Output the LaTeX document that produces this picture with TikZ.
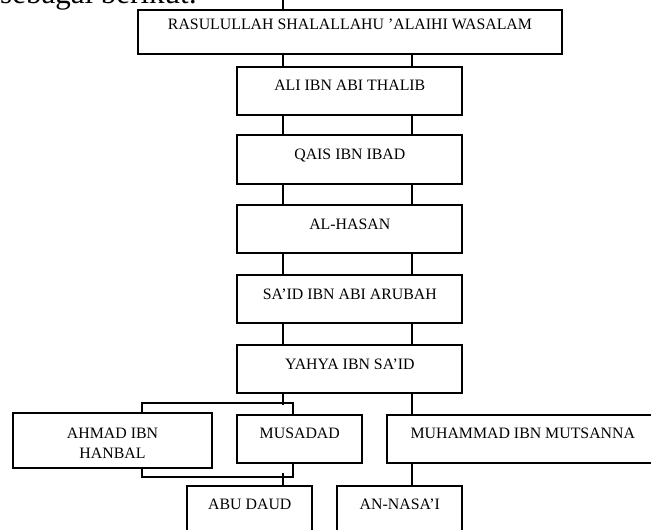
\documentclass[tikz,border=0pt]{standalone}
\usepackage{fontspec}
\setmainfont{Liberation Serif}

\begin{document}
\begin{tikzpicture}[x=1pt,y=-1pt,
    namebox/.style={draw,line width=1.8pt,rectangle,inner sep=0pt,
      text height=8pt,text depth=8pt,minimum height=48.3pt,
      font=\fontsize{15.85}{20}\selectfont},
    link/.style={line width=1.8pt}]
      \clip (0,0) rectangle (651,530);

      \node [anchor=base west,inner sep=0pt,font=\fontsize{31}{36}\selectfont] (intro) at (0,3.3) {sebagai berikut:};

      \coordinate (lx) at (282.6,0);
      \coordinate (rx) at (412.3,0);
      \coordinate (toplink) at (282.6,-3);
      \coordinate (upbar) at (141.7,402.7);
      \coordinate (upbarr) at (292.7,402.7);
      \coordinate (lowbar) at (141.7,477.3);
      \coordinate (lowbarr) at (292.7,477.3);

      \node [namebox,minimum width=423.4pt,minimum height=44.3pt,text depth=14pt] (rasul) at (350,32.15) {RASULULLAH SHALALLAHU ’ALAIHI WASALAM};
      \node [namebox,minimum width=225pt] (ali) at (349.8,90.85) {ALI IBN ABI THALIB};
      \node [namebox,minimum width=225pt] (qais) at (349.8,159.5) {QAIS IBN IBAD};
      \node [namebox,minimum width=225pt] (alhasan) at (349.8,229.15) {AL-HASAN};
      \node [namebox,minimum width=225pt] (said) at (349.8,299.15) {SA’ID IBN ABI ARUBAH};
      \node [namebox,minimum width=225pt] (yahya) at (349.8,369.15) {YAHYA IBN SA’ID};

      \node [namebox,minimum width=199.6pt,minimum height=55pt,align=center,text height=40pt,text depth=3.8pt] (ahmad) at (112.5,440.2) {AHMAD IBN\\HANBAL};
      \node [namebox,minimum width=125pt,minimum height=47.7pt] (musadad) at (299.8,438.85) {MUSADAD};
      \node [namebox,minimum width=271pt,minimum height=47.7pt] (muhammad) at (522.8,438.85) {MUHAMMAD IBN MUTSANNA};

      \node [namebox,minimum width=125pt] (abudaud) at (249.8,509.85) {ABU DAUD};
      \node [namebox,minimum width=125pt] (annasai) at (399.8,509.85) {AN-NASA’I};

      % chain of transmitters
      \draw [link] (toplink) -- (rasul.north -| toplink);
      \draw [link] (rasul.south -| lx) -- (ali.north -| lx);
      \draw [link] (rasul.south -| rx) -- (ali.north -| rx);
      \draw [link] (ali.south -| lx) -- (qais.north -| lx);
      \draw [link] (ali.south -| rx) -- (qais.north -| rx);
      \draw [link] (qais.south -| lx) -- (alhasan.north -| lx);
      \draw [link] (qais.south -| rx) -- (alhasan.north -| rx);
      \draw [link] (alhasan.south -| lx) -- (said.north -| lx);
      \draw [link] (alhasan.south -| rx) -- (said.north -| rx);
      \draw [link] (said.south -| lx) -- (yahya.north -| lx);
      \draw [link] (said.south -| rx) -- (yahya.north -| rx);

      % branches below yahya
      \draw [link,shorten >=-2pt] (yahya.south -| lx) -- (upbar -| lx);
      \draw [link] (ahmad.north -| upbar) -- (upbar) -- (upbarr) -- (musadad.north -| upbarr);
      \draw [link] (ahmad.south -| lowbar) -- (lowbar) -- (lowbarr) -- (musadad.south -| lowbarr);
      \draw [link,shorten <=-4pt] (lowbar -| lx) -- (abudaud.north -| lx);
      \draw [link] (yahya.south -| rx) -- (muhammad.north -| rx);
      \draw [link] (muhammad.south -| rx) -- (annasai.north -| rx);
    \end{tikzpicture}
\end{document}
